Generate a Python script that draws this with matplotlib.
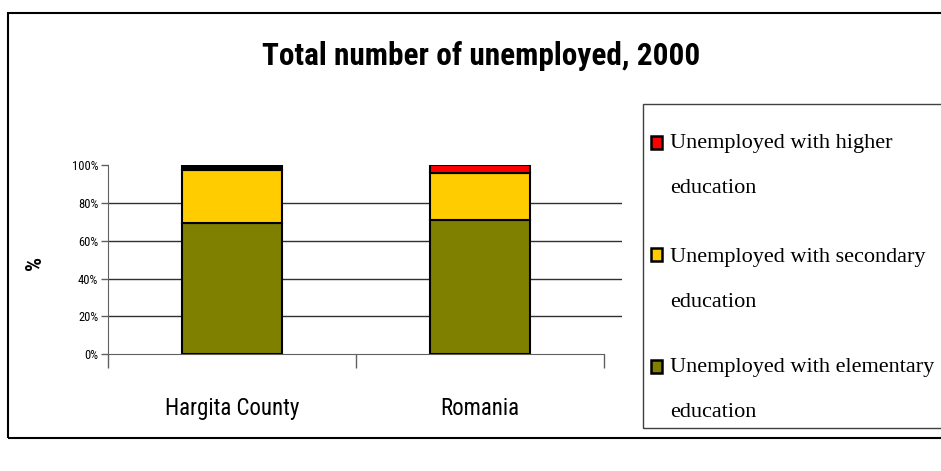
import matplotlib.pyplot as plt
from matplotlib.patches import Rectangle

# data (percent of unemployed, 2000)
regions = ["Hargita County", "Romania"]
elementary = [69.3, 71.0]
secondary = [28.2, 24.8]
higher = [2.5, 4.2]

series_labels = ["Unemployed with higher\neducation",
                 "Unemployed with secondary\neducation",
                 "Unemployed with elementary\neducation"]
series_colors = ["#FF0000", "#FFCC00", "#808000"]
yticks = [0, 20, 40, 60, 80, 100]

narrow = ["Roboto Condensed", "DejaVu Sans"]
serif = ["Liberation Serif", "DejaVu Serif"]

W, H = 941, 471
fig = plt.figure(figsize=(W / 100, H / 100), dpi=100)


def fx(px):
    return px / W


def fy(py):
    return 1 - py / H


# outer chart border (runs off the right edge like the original)
fig.patches.append(Rectangle((fx(8), fy(438)), 1.0, 425 / H,
                             transform=fig.transFigure, fill=False,
                             edgecolor="black", linewidth=1.5))

ax = fig.add_axes([fx(108), fy(354), 514 / W, 188.7 / H])

x = list(range(len(regions)))
bottom2 = [a + b for a, b in zip(elementary, secondary)]
w = 0.4
ax.bar(x, elementary, width=w, color="#808000", edgecolor="black",
       linewidth=1.5, zorder=3)
ax.bar(x, secondary, width=w, bottom=elementary, color="#FFCC00",
       edgecolor="black", linewidth=1.5, zorder=3)
ax.bar(x, higher, width=w, bottom=bottom2, color=["black", "#FF0000"],
       edgecolor="black", linewidth=1.5, zorder=3)

ax.set_ylim(0, 100)
ax.set_xlim(-0.5, 1.573)
ax.set_yticks(yticks)
ax.set_yticklabels([f"{v}%" for v in yticks], family=narrow, fontsize=9)
ax.tick_params(axis="y", length=5, width=1, color="#606060", pad=2)

# category separators as major ticks, names as minor ticks
ax.set_xticks([-0.5, 0.5, 1.5])
ax.set_xticklabels([])
ax.tick_params(axis="x", which="major", direction="out", length=10,
               width=1, color="#606060")
ax.set_xticks(x, minor=True)
ax.set_xticklabels(regions, minor=True, family=narrow, fontsize=16.5)
ax.tick_params(axis="x", which="minor", length=0, pad=31)

ax.yaxis.grid(True, color="#303030", linewidth=1, zorder=0)
ax.yaxis.get_gridlines()[-1].set_visible(False)
ax.yaxis.get_gridlines()[0].set_visible(False)

for s in ["top", "right"]:
    ax.spines[s].set_visible(False)
ax.spines["left"].set_color("#606060")
ax.spines["bottom"].set_color("#606060")
ax.spines["bottom"].set_bounds(-0.5, 1.5)

ax.set_ylabel("%", family=narrow, fontsize=16, fontweight="bold")
ax.yaxis.set_label_coords(-0.12, 0.48)

fig.text(fx(481), fy(56), "Total number of unemployed, 2000",
         family=narrow, fontsize=22.5, fontweight="bold",
         ha="center", va="center")

# legend box, drawn by hand so the spacing matches the original
fig.patches.append(Rectangle((fx(643), fy(428)), 1.0, (428 - 104) / H,
                             transform=fig.transFigure, fill=False,
                             edgecolor="#404040", linewidth=1))
first_lines = [148, 260, 372]
last_lines = [193, 307, 417]
for label, color, top, base in zip(series_labels, series_colors,
                                   first_lines, last_lines):
    fig.patches.append(Rectangle((fx(651), fy(top + 1)), 11 / W, 13 / H,
                                 transform=fig.transFigure,
                                 facecolor=color, edgecolor="black",
                                 linewidth=1.8))
    fig.text(fx(670), fy(base), label, family=serif, fontsize=16,
             va="baseline", ha="left", linespacing=2.84)

fig.savefig("out.png", dpi=100)
